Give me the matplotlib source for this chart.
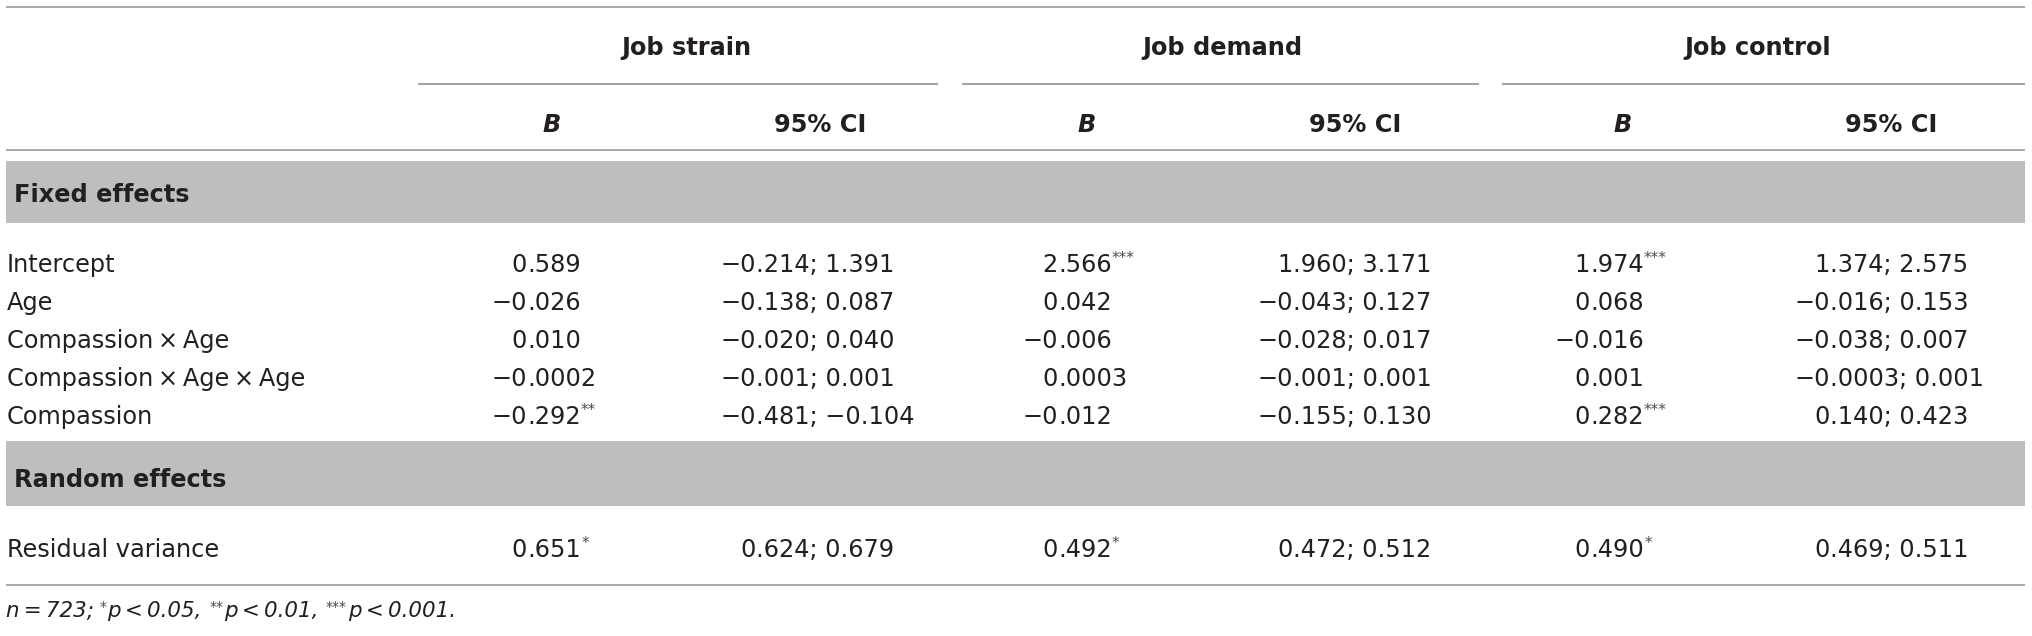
import matplotlib
matplotlib.use("Agg")
import matplotlib.pyplot as plt
from matplotlib.patches import Rectangle

# ---------------- data ----------------
groups = ["Job strain", "Job demand", "Job control"]
sub_headers = ["B", "95% CI"]
section_titles = ["Fixed effects", "Random effects"]

fixed_labels = ["Intercept", "Age", "Compassion\u2009\u00d7\u2009Age",
                "Compassion\u2009\u00d7\u2009Age\u2009\u00d7\u2009Age", "Compassion"]

strain_B = ["0.589", "\u22120.026", "0.010", "\u22120.0002", "\u22120.292"]
strain_B_sig = ["", "", "", "", "**"]
strain_CI = ["\u22120.214; 1.391", "\u22120.138; 0.087", "\u22120.020; 0.040",
             "\u22120.001; 0.001", "\u22120.481; \u22120.104"]

demand_B = ["2.566", "0.042", "\u22120.006", "0.0003", "\u22120.012"]
demand_B_sig = ["***", "", "", "", ""]
demand_CI = ["1.960; 3.171", "\u22120.043; 0.127", "\u22120.028; 0.017",
             "\u22120.001; 0.001", "\u22120.155; 0.130"]

control_B = ["1.974", "0.068", "\u22120.016", "0.001", "0.282"]
control_B_sig = ["***", "", "", "", "***"]
control_CI = ["1.374; 2.575", "\u22120.016; 0.153", "\u22120.038; 0.007",
              "\u22120.0003; 0.001", "0.140; 0.423"]

random_labels = ["Residual variance"]
random_B = [["0.651"], ["0.492"], ["0.490"]]
random_B_sig = [["*"], ["*"], ["*"]]
random_CI = [["0.624; 0.679"], ["0.472; 0.512"], ["0.469; 0.511"]]

footnote_main = ["n\u2009=\u2009723;", "p\u2009<\u20090.05,", "p\u2009<\u20090.01,", "p\u2009<\u20090.001."]
footnote_sup = ["*", "**", "***"]

# ---------------- style / layout ----------------
FONT = ["DejaVu Sans"]
FS = 17.3
SUP_FS = 11
FOOT_FS = 15.4
FOOT_SUP_FS = 10
TXT = "#231F20"
SUP_COL = "#4a4a4a"
LINE = "#9A9A9A"
BAND = "#BCBEC0"

plt.rcParams["font.family"] = FONT

fig = plt.figure(figsize=(20.32, 6.36), dpi=100)
ax = fig.add_axes([0, 0, 1, 1])
ax.set_xlim(0, 2032)
ax.set_ylim(636, 0)
ax.axis("off")

X_LEFT, X_RIGHT = 6, 2025
group_centers = [686, 1222, 1758]
group_lines = [(418, 938), (962, 1479), (1502, 2025)]
b_centers = [552, 1087, 1623]
ci_centers = [820, 1355, 1891]
b_dec = [527, 1058, 1590]
ci_dec = [756, 1293, 1830]

y_group = 55
y_group_line = 84
y_sub = 132
y_top_line = 7
y_head_line = 150
fixed_band = (161, 223)
y_fixed_title = 202
fixed_rows = [272, 310, 348, 386, 424]
random_band = (441, 506)
y_random_title = 487
random_rows = [557]
y_bottom_line = 585
y_foot = 617

# lines
ax.plot([X_LEFT, X_RIGHT], [y_top_line] * 2, color=LINE, lw=1.2, solid_capstyle="butt")
ax.plot([X_LEFT, X_RIGHT], [y_head_line] * 2, color=LINE, lw=1.2, solid_capstyle="butt")
ax.plot([X_LEFT, X_RIGHT], [y_bottom_line] * 2, color=LINE, lw=1.2, solid_capstyle="butt")
for (x0, x1) in group_lines:
    ax.plot([x0, x1], [y_group_line] * 2, color=LINE, lw=1.3, solid_capstyle="butt")

# bands
for (y0, y1) in (fixed_band, random_band):
    ax.add_patch(Rectangle((X_LEFT, y0), X_RIGHT - X_LEFT, y1 - y0,
                           facecolor=BAND, edgecolor="none"))

# headers
for g, xc in zip(groups, group_centers):
    ax.text(xc, y_group, g, ha="center", va="baseline", fontsize=FS,
            fontweight="bold", color=TXT)
for xb, xci in zip(b_centers, ci_centers):
    ax.text(xb, y_sub, sub_headers[0], ha="center", va="baseline", fontsize=FS,
            fontweight="bold", style="italic", color=TXT)
    ax.text(xci, y_sub, sub_headers[1], ha="center", va="baseline", fontsize=FS,
            fontweight="bold", color=TXT)

ax.text(14, y_fixed_title, section_titles[0], ha="left", va="baseline",
        fontsize=FS, fontweight="bold", color=TXT)
ax.text(14, y_random_title, section_titles[1], ha="left", va="baseline",
        fontsize=FS, fontweight="bold", color=TXT)


def dec_cell(xdec, y, s, sig=""):
    i = s.index(".")
    pre, rest = s[:i], s[i:]
    ax.text(xdec, y, pre, ha="right", va="baseline", fontsize=FS, color=TXT)
    t = ax.text(xdec, y, rest, ha="left", va="baseline", fontsize=FS, color=TXT)
    if sig:
        ax.annotate(sig, xy=(1, 1), xycoords=t, xytext=(0.3, 1.2),
                    textcoords="offset points", ha="left", va="top",
                    fontsize=SUP_FS, color=SUP_COL)


# fixed rows
cols_B = [strain_B, demand_B, control_B]
cols_sig = [strain_B_sig, demand_B_sig, control_B_sig]
cols_CI = [strain_CI, demand_CI, control_CI]
for r, (lab, y) in enumerate(zip(fixed_labels, fixed_rows)):
    ax.text(7, y, lab, ha="left", va="baseline", fontsize=FS, color=TXT)
    for g in range(3):
        dec_cell(b_dec[g], y, cols_B[g][r], cols_sig[g][r])
        dec_cell(ci_dec[g], y, cols_CI[g][r])

# random rows
for r, (lab, y) in enumerate(zip(random_labels, random_rows)):
    ax.text(7, y, lab, ha="left", va="baseline", fontsize=FS, color=TXT)
    for g in range(3):
        dec_cell(b_dec[g], y, random_B[g][r], random_B_sig[g][r])
        dec_cell(ci_dec[g], y, random_CI[g][r])

# footnote
prev = ax.text(6, y_foot, footnote_main[0], ha="left", va="baseline",
               fontsize=FOOT_FS, style="italic", color=TXT)
base = prev
for k, (sup, main) in enumerate(zip(footnote_sup, footnote_main[1:])):
    gap = 4 if k == 0 else 5.5
    s = ax.annotate(sup, xy=(1, 1), xycoords=prev, xytext=(gap, 1.0),
                    textcoords="offset points", ha="left", va="top",
                    fontsize=FOOT_SUP_FS, style="italic", color=SUP_COL)
    prev = ax.annotate(main, xy=(1, 0), xycoords=(s, base), xytext=(0.5, 0),
                       textcoords="offset points", ha="left", va="bottom",
                       fontsize=FOOT_FS, style="italic", color=TXT)

fig.savefig("out.png", dpi=100)
